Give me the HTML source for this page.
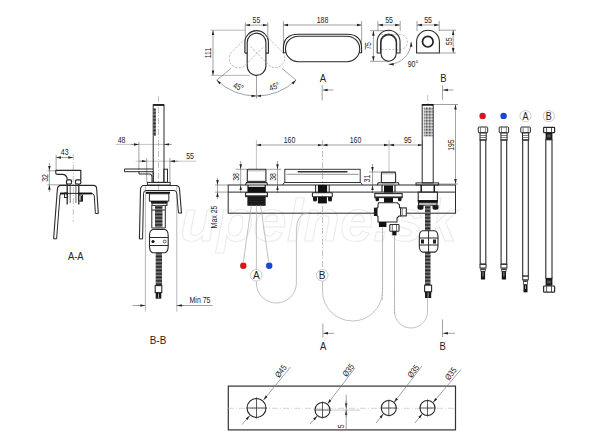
<!DOCTYPE html>
<html><head><meta charset="utf-8">
<style>
html,body{margin:0;padding:0;background:#fff;width:600px;height:448px;overflow:hidden}
svg{display:block}
text{font-family:"Liberation Sans",sans-serif;fill:#222}
.o{fill:none;stroke:#2a2a2a;stroke-width:1}
.d{fill:none;stroke:#7a7a7a;stroke-width:0.7}
.c{fill:none;stroke:#9a9a9a;stroke-width:0.6;stroke-dasharray:6 2 1 2}
.g{fill:none;stroke:#bbb;stroke-width:0.7;stroke-dasharray:2 1.5}
.t{font-size:8.5px}
.L{font-size:11.6px}
</style></head><body>
<svg width="600" height="448" viewBox="0 0 600 448">
<defs>
<marker id="a" viewBox="0 0 10 10" refX="10" refY="5" markerWidth="5" markerHeight="5" orient="auto-start-reverse" markerUnits="userSpaceOnUse"><path d="M0,2.5 L10,5 L0,7.5z" fill="#222"/></marker>

<pattern id="dots" width="1.5" height="1.5" patternUnits="userSpaceOnUse"><rect width="1.5" height="1.5" fill="#fff"/><rect width="1" height="1" fill="#333"/></pattern>
<pattern id="spr" width="6" height="1.4" patternUnits="userSpaceOnUse"><rect width="6" height="1.4" fill="#222"/><rect y="0.9" width="6" height="0.5" fill="#aaa"/></pattern>
</defs>

<text id="wm" transform="translate(180,241)" style="font-family:'Liberation Sans',sans-serif;font-style:italic;font-weight:bold;font-size:60px;fill:none;stroke:#ececec;stroke-width:1.1">upelne.sk</text>
<!-- ============ TOP VIEWS ============ -->
<!-- handle 1 dim 55 -->
<path class="d" d="M245.3,22.5V40 M267.8,22.5V40" />
<path class="d" d="M245.3,25.1H267.8" marker-start="url(#a)" marker-end="url(#a)"/>
<text transform="translate(256.4,23) scale(0.82,1)" class="t" text-anchor="middle">55</text>
<!-- 111 -->
<path class="d" style="stroke:#999" d="M210.7,30.2H245 M210.7,75.4H250"/>
<path class="d" d="M213,30.2V75.4" marker-start="url(#a)" marker-end="url(#a)"/>
<text class="t" transform="translate(210.5,53) rotate(-90) scale(0.82,1)" text-anchor="middle">111</text>
<!-- arc 45 -->
<path class="d" d="M216.7,80.1 A58,58 0 0 0 256.5,96" marker-start="url(#a)" marker-end="url(#a)"/>
<path class="d" d="M256.5,96 A58,58 0 0 0 296.1,80.1" marker-start="url(#a)" marker-end="url(#a)"/>
<path class="d" d="M256.5,76V98.5 M216.7,80.1L231,68.5 M296.1,80.1L282,68.5"/>
<text class="t" transform="translate(237.3,89.4) rotate(22) scale(0.82,1)" text-anchor="middle">45°</text>
<text class="t" transform="translate(275.5,89.2) rotate(-22) scale(0.82,1)" text-anchor="middle">45°</text>
<!-- handle shapes -->
<path class="o" style="stroke-width:1.15" d="M247.2,42.55 A9.35,9.35 0 0 1 265.9,42.55 V66.05 A9.35,9.35 0 0 1 247.2,66.05 Z"/>
<path class="o" style="stroke-width:1.15" d="M244.9,53.1 V42.4 A11.75,11.75 0 0 1 268.4,42.4 V53.1 H266 M244.9,53.1 H247.2"/>

<g class="g" style="stroke:#b5b5b5;stroke-width:0.8;stroke-dasharray:2.5 1.2">
<path transform="rotate(45 256.8 40)" d="M247.6,40 V65.9 A9.4,9.4 0 0 0 266.4,65.9 V40"/>
<path transform="rotate(-45 256.8 40)" d="M247.6,40 V65.9 A9.4,9.4 0 0 0 266.4,65.9 V40"/>
</g>
<!-- spout top 188 -->
<path class="d" d="M283.4,21V47 M361.6,21V47"/>
<path class="d" d="M283.4,25H361.6" marker-start="url(#a)" marker-end="url(#a)"/>
<text transform="translate(322.5,23) scale(0.82,1)" class="t" text-anchor="middle">188</text>
<path class="o" style="stroke-width:1.1" d="M298.2,36.2 H347 A12.75,12.75 0 0 1 347,61.7 H298.2 A12.75,12.75 0 0 1 298.2,36.2 Z"/>
<path class="o" style="stroke-width:1.1" d="M285.6,52.7 H283.4 V48.5 Q283.4,34.3 298.2,34.3 H347 Q361.6,34.3 361.6,48.5 V52.7 H359.5"/>

<!-- 75 -->
<path class="d" d="M370,30.7H390 M370,61.3H389"/>
<path class="d" d="M373.4,30.7V61.3" marker-start="url(#a)" marker-end="url(#a)"/>
<text class="t" transform="translate(370.5,46) rotate(-90) scale(0.82,1)" text-anchor="middle">75</text>
<!-- handle 2 -->
<path class="d" d="M377.9,21V31 M400.2,21V31"/>
<path class="d" d="M377.9,25H400.2" marker-start="url(#a)" marker-end="url(#a)"/>
<text transform="translate(389,23) scale(0.82,1)" class="t" text-anchor="middle">55</text>
<path class="g" style="stroke:#b5b5b5;stroke-width:0.8;stroke-dasharray:2.5 1.2" transform="rotate(-90 389 42)" d="M381.6,34 V53 A7.4,7.4 0 0 0 396.4,53 V34"/>
<path class="o" style="stroke-width:1.1" d="M381,42.5 A7.6,7.6 0 0 1 396.2,42.5 V53.6 A7.6,7.6 0 0 1 381,53.6 Z"/>
<path class="o" style="stroke-width:1.1" d="M377.2,53 V41.6 A11.4,11.4 0 0 1 400,41.6 V53 H396.6 V42 A8,8 0 0 0 380.6,42 V53 Z"/>
<path class="d" d="M388.7,64.3 A22.5,22.5 0 0 0 411.2,41.8" marker-start="url(#a)" marker-end="url(#a)"/>
<text transform="translate(413,67) scale(0.82,1)" class="t" text-anchor="middle">90°</text>

<!-- element B top -->
<path class="d" d="M417,21V31 M439.2,21V31"/>
<path class="d" d="M417,25H439.2" marker-start="url(#a)" marker-end="url(#a)"/>
<text transform="translate(428,23) scale(0.82,1)" class="t" text-anchor="middle">55</text>
<path class="o" style="stroke-width:1.1" d="M416.6,53 V41.6 A11.4,11.4 0 0 1 439.4,41.6 V53 Z"/>
<circle cx="427.8" cy="41.7" r="5.3" fill="none" stroke="#222" stroke-width="1.7"/>
<path class="d" d="M439,30.2H456 M439,53H456"/>
<path class="d" d="M453.2,30.2V53" marker-start="url(#a)" marker-end="url(#a)"/>
<text class="t" transform="translate(451.5,41.3) rotate(-90) scale(0.82,1)" text-anchor="middle">55</text>

<!-- section markers top -->
<text transform="translate(323,81.5) scale(0.82,1)" class="L" text-anchor="middle">A</text>
<path class="d" d="M322.2,85.2V100.5"/>
<path class="d" d="M333.5,90H322.6" marker-end="url(#a)"/>
<text transform="translate(443.3,81.6) scale(0.82,1)" class="L" text-anchor="middle">B</text>
<path class="d" d="M442.5,85.5V99.8"/>
<path class="d" d="M453.5,90H442.9" marker-end="url(#a)"/>

<!-- ============ MAIN FRONT VIEW ============ -->
<!-- dims -->
<path class="d" style="stroke:#aaa" d="M256.4,140V169 M389,140V172 M422.5,140V150"/>
<path class="c" d="M322.5,140V269.5"/>
<path class="d" d="M256.4,145H322.5" marker-start="url(#a)" marker-end="url(#a)"/>
<path class="d" d="M322.5,145H389" marker-start="url(#a)" marker-end="url(#a)"/>
<path class="d" d="M389,145H422.5" marker-start="url(#a)" marker-end="url(#a)"/>
<text transform="translate(289.5,143) scale(0.82,1)" class="t" text-anchor="middle">160</text>
<text transform="translate(355.5,143) scale(0.82,1)" class="t" text-anchor="middle">160</text>
<text transform="translate(407.8,143) scale(0.82,1)" class="t" text-anchor="middle">95</text>
<path class="c" d="M427.7,95V104"/>
<!-- 195 -->
<path class="d" d="M433,104.5H458 M437.5,184H458"/>
<path class="d" d="M455.5,104.5V184" marker-start="url(#a)" marker-end="url(#a)"/>
<text class="t" transform="translate(453.5,145.2) rotate(-90) scale(0.8,1)" text-anchor="middle">195</text>
<!-- 38 / 38 / 31 / max25 -->
<path class="d" d="M236,169.3H247 M265.5,169.3H281 M369,172H381"/>
<path class="d" d="M240.7,161V169.3" marker-end="url(#a)"/><path class="d" d="M240.7,193V185.3" marker-end="url(#a)"/><path class="d" d="M240.7,169.3V185.3"/>
<text class="t" transform="translate(238.5,177) rotate(-90) scale(0.82,1)" text-anchor="middle">38</text>
<path class="d" d="M277.5,161V169.3" marker-end="url(#a)"/><path class="d" d="M277.5,193V185.3" marker-end="url(#a)"/><path class="d" d="M277.5,169.3V185.3"/>
<text class="t" transform="translate(275.5,177) rotate(-90) scale(0.82,1)" text-anchor="middle">38</text>
<path class="d" d="M372.5,164V172" marker-end="url(#a)"/><path class="d" d="M372.5,193V185.3" marker-end="url(#a)"/><path class="d" d="M372.5,172V185.3"/>
<text class="t" transform="translate(369.8,178.6) rotate(-90) scale(0.82,1)" text-anchor="middle">31</text>
<path class="d" d="M215,185H228 M215,192.1H228"/>
<path class="d" d="M217.5,178V185" marker-end="url(#a)"/><path class="d" d="M217.5,199V192.1" marker-end="url(#a)"/><path class="d" d="M217.5,185V192.1"/>
<text class="t" transform="translate(216.8,217) rotate(-90) scale(0.82,1)" text-anchor="middle">Max 25</text>

<!-- deck -->
<rect class="o" x="228.2" y="185" width="227.3" height="28.2"/>
<path class="o" d="M228.2,192.1H455.5"/>

<!-- left handle -->
<rect class="o" x="247.3" y="169.3" width="18.6" height="12.6" rx="0.8" style="stroke-width:1.1"/>
<path d="M247.8,170.8H265.4" stroke="#777" stroke-width="0.6"/>
<rect x="247.3" y="180.8" width="18.6" height="1.6" fill="#444"/>
<path class="o" d="M245.5,185 L246.5,182.6 H266.7 L267.7,185" style="stroke-width:1.1"/>
<path d="M248,185V187 M265.2,185V187" stroke="#222" stroke-width="1.2"/>
<rect x="247.4" y="186.8" width="18.4" height="5.6" fill="#111"/>
<rect class="o" x="245.6" y="192.6" width="21.8" height="4" style="stroke-width:1.1"/>
<rect x="245.6" y="195.2" width="21.8" height="1.6" fill="#333"/>
<rect x="247.4" y="196.8" width="18.2" height="9" fill="#151515"/>
<path d="M247.4,199H265.6 M247.4,201.5H265.6 M247.4,204H265.6" stroke="#444" stroke-width="0.4"/>


<!-- spout front -->
<rect class="o" x="284.8" y="169.3" width="75.4" height="13.2" style="stroke-width:1;stroke:#3a3a3a"/>
<path class="o" d="M286.5,174.3H358.5" style="stroke:#666;stroke-width:0.7"/>
<rect x="297.5" y="171" width="50.2" height="1.6" rx="0.8" fill="#333"/>
<path class="o" d="M282.5,185 L284.3,182.5 H360.7 L362.5,185" style="stroke-width:1;stroke:#333"/>
<!-- middle valve under deck -->
<path d="M315.6,185V192.4 M329.2,185V192.4" stroke="#222" stroke-width="1"/>
<rect x="317.9" y="185" width="9.2" height="8" fill="#111"/>
<rect class="o" x="312.4" y="192.7" width="19.9" height="4.1" rx="0.6" style="stroke-width:1.1"/>
<path d="M313,197 H317 V200 Q317,201.6 315,201.6 Q313,201.6 313,200 Z M328,197 H332 V200 Q332,201.6 330,201.6 Q328,201.6 328,200 Z" fill="#1a1a1a"/>
<rect x="317.9" y="196.8" width="9" height="6.6" fill="#111"/>
<!-- right handle -->
<rect class="o" x="381.4" y="172.1" width="14.2" height="10.5" rx="0.8" style="stroke-width:1.1"/>
<path d="M381.9,173.8H395.1" stroke="#777" stroke-width="0.6"/>
<path class="o" d="M377.4,185 L378.2,182.7 H398.3 L399,185" style="stroke-width:1.1"/>
<path d="M382,185V192.1 M395,185V192.1" stroke="#222" stroke-width="1.1"/>
<rect x="384" y="185.5" width="9" height="7" fill="#111"/>
<rect class="o" x="374.8" y="193.6" width="27.4" height="4" style="stroke-width:1.1"/>
<rect x="374.8" y="196.4" width="27.4" height="1.3" fill="#333"/>
<path d="M375.5,197.7 H379 V200 Q379,201.2 377.3,201.2 Q375.5,201.2 375.5,200 Z M398,197.7 H401.5 V200 Q401.5,201.2 399.8,201.2 Q398,201.2 398,200 Z" fill="#1a1a1a"/>
<rect x="384" y="197.7" width="9" height="5" fill="#111"/>
<!-- diverter body -->
<path class="o" d="M378.5,202.8 H397.5 L399.5,205 V207.7 H400.7 V216 H399 L397,218 V222 H378 V216.5 L376.8,215.5 V208.5 L378,207.2 V205 Z" style="fill:#fff;stroke-width:1.1"/>
<rect x="373.9" y="207.7" width="3.4" height="8.3" fill="#1a1a1a"/>
<rect class="o" x="400.7" y="207.9" width="5.6" height="8" style="fill:#fff;stroke-width:1.1"/>
<path d="M402.5,208V215.8" stroke="#555" stroke-width="0.6"/>
<rect x="378.9" y="222" width="7.5" height="5" fill="#111"/>
<rect class="o" x="389.8" y="224.5" width="9.2" height="6.7" rx="0.8" style="fill:#fff;stroke-width:1.1"/>
<path d="M392.3,224.7V231 M396.5,224.7V231" stroke="#333" stroke-width="0.7"/>
<rect x="392.3" y="231.2" width="4.2" height="4.2" fill="#111"/>
<path class="g" d="M382.5,228V300 M394.5,235V315" style="stroke:#aaa"/>
<!-- hand shower -->
<rect class="o" x="422.2" y="104.6" width="11" height="78.3"/>
<path d="M422.2,104.9H433.2" stroke="#111" stroke-width="1.6"/>
<rect x="423.8" y="107" width="9" height="29.5" fill="url(#dots)"/>
<rect class="o" x="416" y="182.9" width="22.6" height="2.1"/>
<path d="M421.2,185V192.1 M434.3,185V192.1" stroke="#1a1a1a" stroke-width="1.5"/>
<rect class="o" x="418.2" y="192.1" width="19.2" height="8.5" style="stroke-width:1.1"/>
<rect x="417.8" y="200.3" width="20" height="2.5" fill="#111"/>
<rect class="o" x="418.6" y="202.8" width="18.4" height="2.4" style="stroke-width:1.1"/>
<path d="M417.5,205.2 H423.5 V208 Q423.5,209.8 421.5,209.8 H419.5 Q417.5,209.8 417.5,208 Z M432.5,205.2 H438.5 V208 Q438.5,209.8 436.5,209.8 H434.5 Q432.5,209.8 432.5,208 Z" fill="#1a1a1a"/>
<rect x="425" y="205.2" width="5.5" height="80" fill="url(#spr)"/>
<path class="o" d="M422.5,230.7 H434.8 Q438,231.5 438,237 V245.5 Q438,251.3 434.8,252.1 H422.5 Q419.3,251.3 419.3,245.5 V237 Q419.3,231.5 422.5,230.7 Z" style="fill:#fff;stroke-width:1.1"/>
<path class="o" d="M419.3,238 H438 M419.3,245 H438 M428.6,230.7 V252.1"/>
<rect x="421" y="239.5" width="3" height="4" fill="#222"/>
<rect x="433" y="239.5" width="3" height="4" fill="#222"/>
<rect class="o" x="424.6" y="285.2" width="7" height="6.6" style="fill:#fff;stroke-width:1.1"/>
<rect x="425" y="291.8" width="6.2" height="6.2" fill="#1a1a1a"/>
<path d="M428.1,292.5V297.5" stroke="#ccc" stroke-width="0.8"/>


<!-- ============ B-B SECTION ============ -->
<path class="c" d="M158.5,96V298"/>
<path class="d" style="stroke:#aaa" d="M115.6,144.4H171.5" />
<path class="d" d="M131,144.4H138.9" marker-end="url(#a)"/>
<path class="d" d="M171.5,144.4H164.2" marker-end="url(#a)"/>
<path class="d" d="M138.9,142V170"/>
<text transform="translate(121.5,142.5) scale(0.82,1)" class="t" text-anchor="middle">48</text>
<path class="d" style="stroke:#aaa" d="M135.8,161.2H196.3"/>
<path class="d" d="M139,161.2H146.5" marker-end="url(#a)"/>
<path class="d" d="M178,161.2H170.2" marker-end="url(#a)"/>
<path class="d" d="M146.7,158V182 M169.9,158V182"/>
<text transform="translate(190,159) scale(0.82,1)" class="t" text-anchor="middle">55</text>
<!-- min 75 -->
<path class="d" style="stroke:#999" d="M145.4,186V311.5 M176.8,186V311.5"/>
<path class="d" d="M132.5,305.5H145.4 M176.8,305.5H212.7"/>
<path class="d" d="M138,305.5H145.4" marker-end="url(#a)"/>
<path class="d" d="M184,305.5H176.8" marker-end="url(#a)"/>
<text transform="translate(200,303) scale(0.82,1)" class="t" text-anchor="middle">Min 75</text>
<!-- shower -->
<rect class="o" x="153.2" y="104.8" width="10.8" height="77.6"/>
<path d="M153.2,105H164" stroke="#111" stroke-width="1.6"/>
<rect x="153.4" y="108.4" width="2.4" height="27.6" fill="url(#spr)"/>
<!-- holder bracket -->
<path class="o" d="M124.5,169 H153.2 M124.5,169 V171.7 H139 M139,171.7 V174 H150 Q152,174 152,177 V182.4 M153.2,171.7 V182.4 M139,171.7 H153.2"/>
<rect class="o" x="163.8" y="169.2" width="3.7" height="13.2"/>
<rect class="o" x="147.4" y="182.4" width="22.8" height="2.6"/>
<!-- U body -->
<path class="o" style="stroke-width:1.1" d="M139.4,238.9 L140.5,189.5 Q140.8,185.5 144,185.5 H176 Q179.3,185.5 179.5,189 L181.5,213.3"/>
<path class="o" style="stroke-width:1" d="M142.6,238.9 L143.5,193.5 Q143.7,190.5 146,190.5 H174 Q176.6,190.5 176.8,193.5 L178.5,213"/>
<path d="M178.5,213 H181.5" stroke="#222" stroke-width="1"/>
<path d="M139.4,238.9 H142.6" stroke="#222" stroke-width="1"/>
<rect x="146" y="191.8" width="24" height="2" fill="#111"/>
<rect class="o" x="149.4" y="193.8" width="19.4" height="7.3" style="fill:#fff"/>
<rect x="151" y="201.1" width="16.5" height="2.1" fill="#111"/>
<rect class="o" x="152" y="203.2" width="15" height="2.2"/>
<path class="o" d="M151.8,205.4 V228 H165.3 V205.4"/>
<rect x="155" y="205.5" width="7.5" height="22" fill="url(#spr)"/>
<path class="o" d="M151.8,210 H155 M162.5,210 H165.3"/>
<!-- clamp -->
<path class="o" d="M152.7,229.5 H165 Q168.2,230.3 168.2,236 V246 Q168.2,251.9 165,252.7 H152.7 Q149.5,251.9 149.5,246 V236 Q149.5,230.3 152.7,229.5 Z" style="fill:#fff;stroke-width:1.1"/>
<path class="o" d="M149.5,237.5 H168.2 M149.5,245.5 H168.2"/>
<circle cx="153" cy="241.5" r="1.6" fill="#111"/>
<circle cx="164.7" cy="241.5" r="1.4" fill="none" stroke="#222" stroke-width="0.7"/>
<rect x="155.7" y="252.7" width="6.3" height="34" fill="url(#spr)"/>
<rect class="o" x="155.2" y="285.6" width="6.6" height="7" style="fill:#fff;stroke-width:1.1"/>
<rect x="155.7" y="292.7" width="5.6" height="6" fill="#1a1a1a"/>
<path d="M158.5,293.5V298.3" stroke="#ccc" stroke-width="0.8"/>

<!-- ============ A-A SECTION ============ -->
<path class="d" d="M56.1,155V171 "/>
<path class="c" d="M73.3,154V222"/>
<path class="d" d="M56.1,157.5H73.3" marker-start="url(#a)" marker-end="url(#a)"/>
<text transform="translate(64.7,154.5) scale(0.82,1)" class="t" text-anchor="middle">43</text>
<path class="d" d="M47.5,170.8H56 M47.5,184.8H67"/>
<path class="d" d="M49.4,163V170.8" marker-end="url(#a)"/>
<path class="d" d="M49.4,192V184.8" marker-end="url(#a)"/>
<path class="d" d="M49.4,170.8V184.8"/>
<text class="t" transform="translate(47.5,178) rotate(-90) scale(0.82,1)" text-anchor="middle">32</text>
<!-- lever -->
<path class="o" style="stroke-width:1.2" d="M55.8,170.3 H80.8 V180 M55.8,170.3 V173.2 Q55.8,174.4 57.5,174.4 H63 Q66.8,174.8 67.4,179.8"/>
<path class="o" style="stroke-width:1.3" d="M67.2,183 V204.6 M78.8,183 V204.6"/>
<rect x="66.5" y="179.8" width="5" height="4.2" rx="1.2" fill="#fff" stroke="#222" stroke-width="1.2"/>
<rect x="75.5" y="179.8" width="5.3" height="4.2" rx="1.2" fill="#fff" stroke="#222" stroke-width="1.2"/>
<path class="o" d="M70.2,184V203 M75.9,184V203" style="stroke:#444;stroke-width:0.8"/>
<path class="o" style="stroke-width:1.1" d="M53.6,238.8 L57.3,190 Q57.6,185.4 61,185.4 H93.5 Q96.5,185.4 96.7,189 L98.3,213.5"/>
<path class="o" style="stroke-width:1" d="M56.6,238.8 L60,195 Q60.3,193.4 62,193.4 H91 Q94.1,193.4 94.3,196 L95.4,213.5"/>
<path d="M95.4,213.5H98.3 M53.6,238.8H56.6" stroke="#222" stroke-width="1"/>
<rect x="60" y="192.6" width="8" height="1.8" fill="#111"/>
<rect x="78" y="192.6" width="14" height="1.8" fill="#111"/>
<rect class="o" x="64.5" y="193" width="3" height="4.5"/>
<rect class="o" x="78.5" y="195" width="4" height="6" />
<rect x="80.5" y="196" width="2" height="5.5" fill="#222"/>
<text transform="translate(75.8,259.7) scale(0.82,1)" class="L" text-anchor="middle" style="font-size:11.5px">A-A</text>
<text transform="translate(158,343.9) scale(0.84,1)" class="L" text-anchor="middle" style="font-size:11.8px">B-B</text>


<!-- leaders and hose loops -->
<g fill="none" stroke="#a8a8a8" stroke-width="0.7">
<path d="M251.4,205.4 L243.4,261.6 M256.4,205.4 V269.5 M260.6,205.4 L268.6,261.6"/>
<path d="M256.4,280.5 V283 A20,20 0 0 0 296.4,283 V230 Q296.4,213.2 309,212.8"/>
<path d="M322.5,280.5 V291 A30,30 0 0 0 382.5,291 V228"/>
<path d="M394.5,235 V311.5 A16.5,16.5 0 0 0 427.5,311.5 V297.5"/>
</g>
<circle cx="243.3" cy="265.8" r="3.2" fill="#d8141c"/>
<circle cx="269.2" cy="265.8" r="3.2" fill="#1846d8"/>
<circle cx="256.3" cy="275.3" r="5.8" fill="#fff" stroke="#aaa" stroke-width="0.6"/>
<text transform="translate(256.3,279.4) scale(0.9,1)" text-anchor="middle" style="font-size:11.2px">A</text>
<circle cx="322.2" cy="275.3" r="5.8" fill="#fff" stroke="#aaa" stroke-width="0.6"/>
<text transform="translate(322.2,279.4) scale(0.9,1)" text-anchor="middle" style="font-size:11.2px">B</text>
<!-- section markers bottom -->
<path class="d" d="M322.9,323.5V337.3"/>
<path class="d" d="M334,333.3H323.3" marker-end="url(#a)"/>
<text transform="translate(323.2,349.7) scale(0.82,1)" class="L" text-anchor="middle">A</text>
<path class="d" d="M442.5,319.5V337.3"/>
<path class="d" d="M455,333.3H442.9" marker-end="url(#a)"/>
<text transform="translate(442.6,349.7) scale(0.82,1)" class="L" text-anchor="middle">B</text>

<!-- ============ HOSES RIGHT ============ -->
<circle cx="482.6" cy="115.9" r="3.2" fill="#d8141c"/>
<circle cx="503.6" cy="115.9" r="3.2" fill="#1846d8"/>
<circle cx="525.5" cy="116.1" r="5.6" fill="#fff" stroke="#aaa" stroke-width="0.6"/>
<text transform="translate(525.5,119.9) scale(0.85,1)" text-anchor="middle" style="font-size:10.5px">A</text>
<circle cx="548.8" cy="116.2" r="5.6" fill="#fff" stroke="#aaa" stroke-width="0.6"/>
<text transform="translate(548.8,120) scale(0.85,1)" text-anchor="middle" style="font-size:10.5px">B</text>
<g id="h1">
<rect class="o" x="478.3" y="127" width="9.4" height="5.8" rx="0.8"/>
<path class="o" d="M480.6,127.5V132.3 M485.4,127.5V132.3" style="stroke-width:0.6"/>
<rect class="o" x="480" y="132.8" width="6.2" height="7.2"/>
<path class="o" d="M480,135.5H486.2 M480,137.5H486.2" style="stroke-width:0.6"/>
<rect class="o" x="480.2" y="140" width="5.6" height="124" style="stroke-width:1.1"/>

<rect class="o" x="480" y="264.4" width="6" height="3.6" style="fill:#fff"/>
<rect x="480.3" y="268.4" width="5.4" height="1.2" fill="#333"/>
<rect class="o" x="480.8" y="269.6" width="4.4" height="1.6" style="stroke-width:0.7"/>
<rect x="480.9" y="271.2" width="4.2" height="8.3" fill="#151515"/>
<path d="M483,272V276.5" stroke="#bbb" stroke-width="0.8"/>
</g>
<use href="#h1" x="20.9"/>
<g>
<rect class="o" x="520.8" y="127" width="9.6" height="5.8" rx="0.8"/>
<path class="o" d="M523.1,127.5V132.3 M528.1,127.5V132.3" style="stroke-width:0.6"/>
<rect class="o" x="522.5" y="132.8" width="6.2" height="7.2"/>
<path class="o" d="M522.5,135.5H528.7 M522.5,137.5H528.7" style="stroke-width:0.6"/>
<rect class="o" x="522.7" y="140" width="5.6" height="136" style="stroke-width:1.1"/>

<rect class="o" x="522.7" y="276.2" width="5.6" height="3.6" style="fill:#fff"/>
<rect x="522.9" y="280.2" width="5.2" height="1.2" fill="#333"/>
<rect class="o" x="523.4" y="281.6" width="4.2" height="3" style="stroke-width:0.7"/>
<rect x="523.5" y="284.6" width="4" height="7.7" fill="#151515"/>
<path d="M525.5,285.5V289" stroke="#bbb" stroke-width="0.8"/>
</g>
<g>
<rect class="o" x="543.6" y="127.3" width="11" height="5.4" rx="0.8" style="stroke-width:1.2"/>
<path class="o" d="M546.6,127.5V132.5 M551.5,127.5V132.5" style="stroke-width:0.8"/>
<rect x="545.6" y="132.7" width="6.8" height="7.2" fill="#1a1a1a"/>
<rect x="547.2" y="134.5" width="3.6" height="3" fill="#555"/>
<rect class="o" x="545.8" y="139.8" width="6.2" height="138.6" style="stroke-width:1.1"/>
<rect x="545.6" y="278.4" width="6.8" height="7.4" fill="#1a1a1a"/>
<rect x="547.2" y="280.5" width="3.6" height="3" fill="#555"/>
<rect class="o" x="543.6" y="286" width="11" height="6.2" rx="0.8" style="stroke-width:1.2"/>
<path class="o" d="M546.6,286.2V292 M551.5,286.2V292" style="stroke-width:0.8"/>
</g>

<!-- ============ PLATE ============ -->
<rect class="o" x="228.3" y="386.1" width="227.2" height="43.8" style="stroke-width:1.2;stroke:#333"/>
<path class="c" d="M228,408.3H455" style="stroke:#bbb;stroke-width:0.6"/>
<path d="M330,410.1H360" stroke="#aaa" stroke-width="0.6"/>
<g fill="none" stroke="#222" stroke-width="1.1">
<circle cx="256.5" cy="408" r="9.5"/>
<circle cx="322.5" cy="410" r="7.5"/>
<circle cx="388.8" cy="408" r="7.5"/>
<circle cx="427.5" cy="408" r="7.5"/>
</g>
<path d="M256.5,397.5V418.5 M246.5,408H266.5 M322.5,401.5V418.5 M314.5,410H330.5 M388.8,399.5V416.5 M380.8,408H396.8 M427.5,399.5V416.5 M419.5,408H435.5" stroke="#333" stroke-width="0.8"/>
<!-- leaders -->
<g class="d">
<path d="M242,424.5 L249.8,415.5" marker-end="url(#a)"/><path d="M290.5,367 L263.5,400" marker-end="url(#a)"/>
<path d="M310,424 L317.3,415.8" marker-end="url(#a)"/><path d="M355,368 L327.5,404" marker-end="url(#a)"/>
<path d="M376,423 L383.5,413.8" marker-end="url(#a)"/><path d="M422,366 L394,402.5" marker-end="url(#a)"/>
<path d="M415,423 L422.3,413.8" marker-end="url(#a)"/><path d="M461,369.5 L433,402.5" marker-end="url(#a)"/>
</g>
<text class="t" transform="translate(283,373) rotate(-52) scale(0.82,1)" text-anchor="middle">Ø45</text>
<text class="t" transform="translate(350.5,372) rotate(-52) scale(0.82,1)" text-anchor="middle">Ø35</text>
<text class="t" transform="translate(415.5,373) rotate(-52) scale(0.82,1)" text-anchor="middle">Ø35</text>
<text class="t" transform="translate(453,375.5) rotate(-52) scale(0.82,1)" text-anchor="middle">Ø35</text>
<path class="d" d="M346.2,401V408.3" marker-end="url(#a)"/>
<path class="d" d="M346.2,417V410.2" marker-end="url(#a)"/>
<path class="d" d="M346.2,394.7V430"/>
<text class="t" transform="translate(343.7,426.2) rotate(-90) scale(0.82,1)" text-anchor="middle">5</text>

</svg>
</body></html>
